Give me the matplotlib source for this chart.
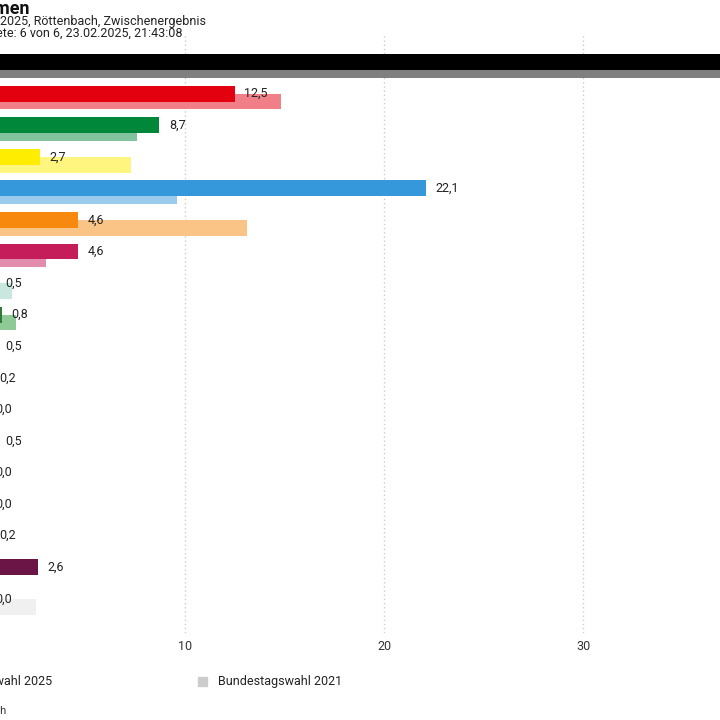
import matplotlib
matplotlib.use("Agg")
import matplotlib.pyplot as plt
from matplotlib.patches import Rectangle

plt.rcParams['font.family'] = ['Roboto', 'DejaVu Sans']

# Zweitstimmen Röttenbach, Werte in Prozent
parteien = ["CSU", "SPD", "GRÜNE", "FDP", "AfD", "FREIE WÄHLER", "Die Linke",
            "Tierschutzpartei", "dieBasis", "ÖDP", "Die PARTEI", "Volt", "BP",
            "MLPD", "PdH", "BÜNDNIS DEUTSCHLAND", "BSW", "Sonstige"]
wahl_2025 = [39.5, 12.5, 8.7, 2.7, 22.1, 4.6, 4.6, 0.5, 0.8, 0.5, 0.2, 0.0,
             0.5, 0.0, 0.0, 0.2, 2.6, 0.0]
wahl_2021 = [38.9, 14.8, 7.6, 7.3, 9.6, 13.1, 3.0, 1.3, 1.5, 0.6, 0.3, 0.4,
             0.3, 0.0, 0.0, 0.0, 0.0, 2.5]
farben = ["#000000", "#e3000f", "#00873a", "#ffed00", "#3498db", "#f7890f",
          "#c51c5a", "#93cdc0", "#2f7a3a", "#ff6400", "#b5152b", "#502379",
          "#0c9ad6", "#e2001a", "#f9a11b", "#1c3d6e", "#6b1446", "#e0e0e0"]
farben_2021 = ["#808080", "#f17f87", "#80c39c", "#fff57f", "#9acbed", "#fbc487",
               "#e28dac", "#c9e6df", "#8fc996", "#ffb17f", "#da8a95", "#a791bc",
               "#85cceb", "#f07f8c", "#fcd08d", "#8d9eb6", "#b589a2", "#f0f0f0"]

W, H = 720, 720
fig = plt.figure(figsize=(7.2, 7.2), dpi=100)

# Achse beginnt links ausserhalb des Bildes (Ausschnitt)
x0_px, px_per_unit = -14, 19.9
ax_top, ax_bottom = 33, 633
xmax = 40
ax = fig.add_axes([x0_px / W, (H - ax_bottom) / H,
                   xmax * px_per_unit / W, (ax_bottom - ax_top) / H])

n = len(parteien)
rows = list(range(n))
ax.barh([r + 0.25 for r in rows], wahl_2021, height=0.5, color=farben_2021, zorder=2)
ax.barh(rows, wahl_2025, height=0.5, color=farben, zorder=3)

for r, v in zip(rows, wahl_2025):
    if v > 35:  # Beschriftung liegt ausserhalb des Ausschnitts
        continue
    ax.annotate(f"{v:.1f}".replace(".", ","), (v, r), xytext=(7, 0),
                textcoords="offset points", va="center", ha="left",
                fontsize=9, color="#222222", zorder=4)

ax.set_xlim(0, xmax)
ax.set_ylim(n + 0.08, -0.92)
ax.set_yticks([])
ax.set_xticks([0, 10, 20, 30, 40])
ax.set_xticklabels(["0", "10", "20", "30", "40"])
ax.tick_params(axis="x", length=0, pad=5, labelsize=9, labelcolor="#333333")
ax.grid(axis="x", color="#cccccc", linestyle=(0, (1, 2)), linewidth=1, zorder=0)
for s in ax.spines.values():
    s.set_visible(False)

# Titel und Untertitel (links abgeschnitten)
fig.text(30 / W, 1 - 9 / H, "Zweitstimmen", ha="right", va="center",
         fontsize=13, fontweight="bold", color="#111111")
fig.text(206 / W, 1 - 22 / H, "Bundestagswahl 2025, Röttenbach, Zwischenergebnis",
         ha="right", va="center", fontsize=9, color="#222222")
fig.text(182 / W, 1 - 34 / H, "Ausgezählte Gebiete: 6 von 6, 23.02.2025, 21:43:08",
         ha="right", va="center", fontsize=9, color="#222222")

# Legende
fig.text(52 / W, 1 - 682 / H, "Bundestagswahl 2025", ha="right", va="center",
         fontsize=9, color="#222222")
fig.patches.append(Rectangle((198 / W, 1 - 686 / H), 9 / W, 9 / H,
                             transform=fig.transFigure, color="#cccccc"))
fig.text(218 / W, 1 - 682 / H, "Bundestagswahl 2021", ha="left", va="center",
         fontsize=9, color="#222222")

fig.text(6 / W, 1 - 711 / H, "Quelle: Gemeinde Röttenbach", ha="right", va="center",
         fontsize=8, color="#333333")

fig.savefig("out.png", dpi=100)
